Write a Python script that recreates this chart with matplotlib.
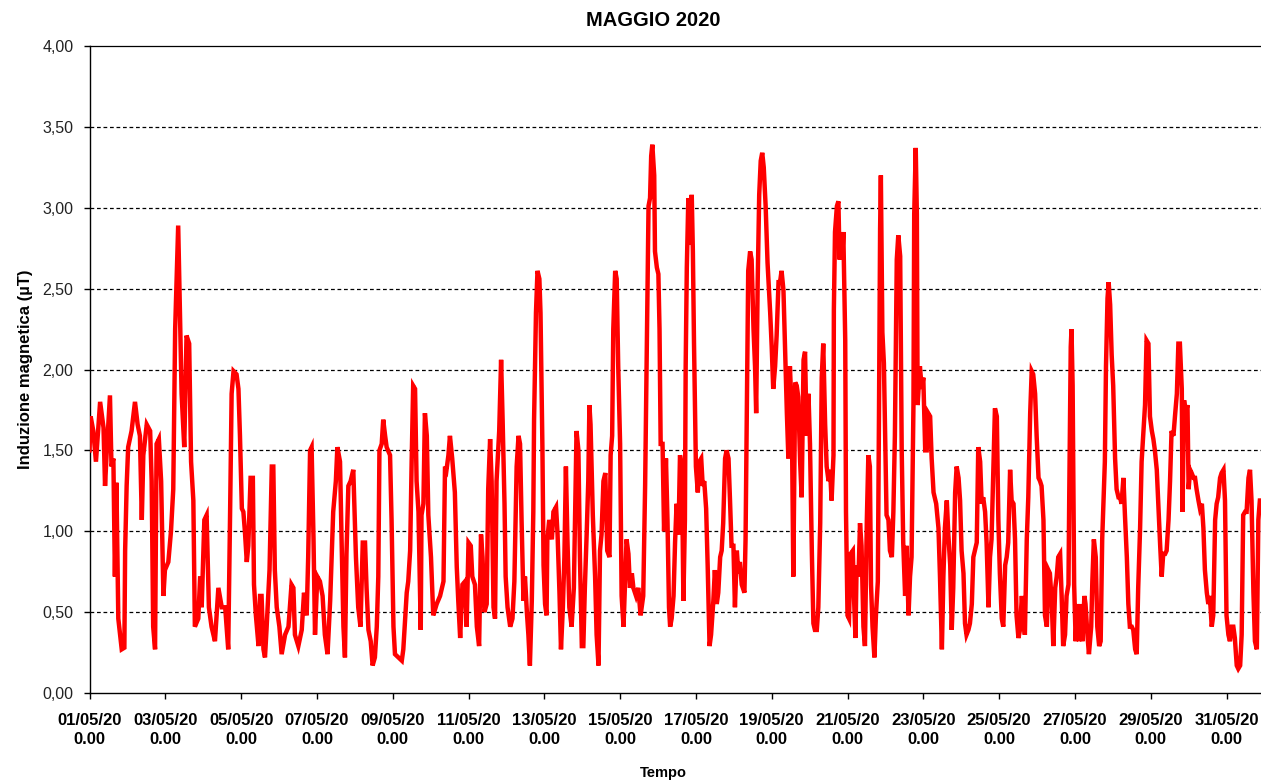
import matplotlib
matplotlib.use("Agg")
import matplotlib.pyplot as plt
from matplotlib.ticker import FuncFormatter, FixedLocator

# ---- data (day offset from 01/05/20 0.00, induction in microtesla) ----
days = [
    0.00, 0.03, 0.10, 0.17, 0.28, 0.37, 0.41, 0.45, 0.54, 0.58, 0.63, 0.67, 0.71, 0.76, 0.85, 0.92, 0.94, 0.98,
    1.02, 1.11, 1.20, 1.27, 1.33, 1.38, 1.42, 1.51, 1.60, 1.64, 1.68, 1.73, 1.77, 1.83, 1.89, 1.95, 1.99,
    2.08, 2.15, 2.21, 2.26, 2.34, 2.39, 2.43, 2.50, 2.56, 2.63, 2.68, 2.74, 2.78, 2.87, 2.92, 2.96,
    3.03, 3.09, 3.15, 3.22, 3.31, 3.40, 3.49, 3.58, 3.66, 3.71, 3.75, 3.80,
    3.88, 3.93, 3.97, 4.02, 4.06, 4.10, 4.15, 4.19, 4.25, 4.31, 4.34, 4.39, 4.46, 4.50, 4.54, 4.59, 4.63,
    4.67, 4.75, 4.81, 4.85, 4.89, 4.94, 5.01, 5.07, 5.16, 5.25, 5.33, 5.38, 5.42, 5.51, 5.60, 5.66, 5.73,
    5.77, 5.82, 5.86, 5.91, 5.95, 6.01, 6.08, 6.15, 6.21, 6.28, 6.35, 6.43, 6.50, 6.54, 6.61, 6.65, 6.70,
    6.74, 6.78, 6.83, 6.89, 6.96, 7.03, 7.09, 7.15, 7.21, 7.27, 7.31, 7.36, 7.42, 7.47, 7.53, 7.58, 7.62, 7.65,
    7.71, 7.75, 7.80, 7.84, 7.93, 7.97, 8.02, 8.06, 8.15, 8.24, 8.28, 8.37, 8.41, 8.46, 8.50, 8.54, 8.59,
    8.63, 8.68, 8.74, 8.76, 8.81, 8.85, 8.90, 8.94, 9.01, 9.07, 9.16, 9.25, 9.34, 9.38, 9.42, 9.47, 9.51,
    9.57, 9.64, 9.69, 9.73, 9.78, 9.84, 9.91, 9.95, 10.00, 10.06, 10.10, 10.17, 10.22, 10.28, 10.33, 10.37,
    10.42, 10.48, 10.52, 10.57, 10.61, 10.66, 10.70, 10.74, 10.81, 10.86, 10.90, 10.95, 10.98, 11.03, 11.10,
    11.16, 11.21, 11.27, 11.32, 11.36, 11.40, 11.45,
    11.49, 11.54, 11.58, 11.62, 11.67, 11.71, 11.73, 11.78, 11.82, 11.87, 11.90, 11.95, 11.98, 12.02, 12.06,
    12.08, 12.13, 12.20, 12.24, 12.31, 12.35, 12.40, 12.44, 12.49, 12.53, 12.57, 12.61, 12.66, 12.72, 12.78,
    12.85, 12.90, 12.94, 12.99, 13.03, 13.07, 13.12, 13.16, 13.19, 13.22, 13.28, 13.34, 13.38, 13.43, 13.47,
    13.51, 13.56, 13.61, 13.66, 13.72, 13.75, 13.79, 13.82, 13.87, 13.91, 13.95, 14.00, 14.04, 14.09, 14.13,
    14.17, 14.22, 14.26, 14.31, 14.35, 14.42, 14.48, 14.54, 14.61, 14.66, 14.70, 14.75, 14.79, 14.82, 14.85,
    14.90, 14.92, 14.97, 15.01, 15.04, 15.07, 15.12, 15.16, 15.21, 15.25, 15.29,
    15.32, 15.36, 15.41, 15.45, 15.49, 15.54, 15.58, 15.63, 15.67, 15.71, 15.73, 15.76, 15.80, 15.85, 15.89,
    15.92, 15.95, 15.98, 16.00, 16.05, 16.09, 16.14, 16.18, 16.22, 16.27, 16.31, 16.36, 16.40, 16.46, 16.50,
    16.55, 16.59, 16.64, 16.68, 16.72, 16.77, 16.81, 16.86, 16.90, 16.94, 16.99, 17.03, 17.08, 17.12, 17.16,
    17.21, 17.28, 17.31, 17.35, 17.38, 17.43, 17.47, 17.52, 17.56, 17.59, 17.63, 17.67, 17.71, 17.75, 17.79,
    17.84, 17.89, 17.96, 18.00, 18.04, 18.09, 18.13, 18.18, 18.22, 18.26, 18.31, 18.35, 18.40, 18.44, 18.48,
    18.53, 18.57, 18.62, 18.66, 18.70, 18.75, 18.79, 18.84, 18.88, 18.92, 18.97, 19.01, 19.06, 19.10,
    19.14, 19.19, 19.23, 19.28, 19.32, 19.36, 19.41, 19.45, 19.50, 19.54, 19.58, 19.63, 19.64, 19.67, 19.72,
    19.76, 19.79, 19.82, 19.86, 19.89, 19.94, 19.96, 20.00, 20.04, 20.08, 20.14, 20.17, 20.21, 20.24, 20.29,
    20.33, 20.37, 20.42, 20.46, 20.51, 20.55, 20.59, 20.62, 20.66, 20.71, 20.75, 20.80, 20.83, 20.86, 20.88,
    20.92, 20.96, 21.00, 21.03, 21.08, 21.12, 21.17, 21.21, 21.25, 21.30, 21.34, 21.39, 21.43, 21.47, 21.52,
    21.56, 21.61, 21.65, 21.69, 21.74, 21.76, 21.80, 21.83, 21.85, 21.91, 21.96, 22.00, 22.05, 22.09, 22.13,
    22.18, 22.22, 22.27, 22.34, 22.40, 22.44, 22.49, 22.53, 22.57, 22.62, 22.66, 22.71, 22.75, 22.79, 22.84,
    22.88, 22.93,
    22.97, 23.01, 23.06, 23.10, 23.14, 23.19, 23.23, 23.28, 23.32, 23.36, 23.41, 23.45, 23.50, 23.54, 23.58,
    23.63, 23.67, 23.72, 23.76, 23.80, 23.85, 23.89, 23.94, 23.98, 24.02, 24.07, 24.11, 24.16, 24.20, 24.24,
    24.29, 24.33, 24.38, 24.42, 24.46, 24.51, 24.55, 24.60, 24.64, 24.68, 24.73, 24.77, 24.82, 24.86, 24.90,
    24.95, 24.99, 25.04, 25.08, 25.12, 25.17, 25.21, 25.26, 25.30, 25.34, 25.39, 25.43, 25.48, 25.52, 25.56,
    25.61, 25.65, 25.69, 25.74, 25.78, 25.83, 25.85, 25.89, 25.91, 25.94, 25.98, 26.02, 26.06, 26.11, 26.15,
    26.20, 26.25, 26.28, 26.33, 26.37, 26.43, 26.46, 26.50, 26.55, 26.59, 26.64, 26.68, 26.72,
    26.79, 26.82, 26.86, 26.89, 26.93, 26.97, 27.01, 27.06, 27.10, 27.15, 27.19, 27.23, 27.28, 27.32, 27.37,
    27.41, 27.45, 27.50, 27.54, 27.59, 27.63, 27.67, 27.72, 27.76, 27.81, 27.85, 27.89, 27.94, 27.98, 28.03,
    28.07, 28.11, 28.16, 28.20, 28.25, 28.29, 28.33, 28.38, 28.42, 28.47, 28.51, 28.55, 28.60, 28.64, 28.69,
    28.73, 28.77, 28.82, 28.84, 28.88, 28.92, 28.97, 29.00, 29.04, 29.08, 29.13, 29.17, 29.21, 29.26, 29.30,
    29.35, 29.39, 29.43, 29.48, 29.52, 29.56, 29.61, 29.65, 29.70, 29.74, 29.78, 29.83, 29.87, 29.92, 29.96,
    30.00, 30.05, 30.09, 30.14, 30.18, 30.22, 30.27, 30.31, 30.36, 30.40, 30.44, 30.49, 30.53, 30.58, 30.62,
    30.66, 30.71, 30.75, 30.80, 30.84, 30.88, 30.92,
]
induction = [
    1.50, 1.71, 1.62, 1.43, 1.80, 1.64, 1.28, 1.47, 1.84, 1.40, 1.45, 0.72, 1.30, 0.46, 0.27, 0.28, 0.88, 1.28,
    1.52, 1.62, 1.80, 1.66, 1.59, 1.07, 1.47, 1.66, 1.62, 1.31, 0.41, 0.27, 1.54, 1.57, 1.31, 0.60, 0.76,
    0.81, 1.00, 1.26, 2.25, 2.89, 2.30, 1.85, 1.52, 2.21, 2.16, 1.43, 1.19, 0.41, 0.46, 0.72, 0.53,
    1.07, 1.10, 0.53, 0.41, 0.32, 0.65, 0.53, 0.53, 0.27, 1.12, 1.85, 1.99,
    1.97, 1.88, 1.59, 1.14, 1.12, 1.00, 0.81, 0.91, 1.33, 1.33, 0.67, 0.48, 0.29, 0.60, 0.60, 0.27, 0.22,
    0.39, 0.76, 1.40, 1.40, 0.76, 0.53, 0.41, 0.24, 0.36, 0.41, 0.67, 0.65, 0.36, 0.29, 0.39, 0.62, 0.48,
    0.84, 1.50, 1.52, 0.96, 0.36, 0.72, 0.69, 0.60, 0.36, 0.24, 0.57, 1.12, 1.31, 1.52, 1.43, 0.96, 0.41,
    0.22, 0.86, 1.28, 1.31, 1.38, 0.84, 0.53, 0.41, 0.93, 0.93, 0.65, 0.39, 0.32, 0.17, 0.22, 0.41, 0.72, 1.50,
    1.54, 1.69, 1.59, 1.52, 1.47, 1.07, 0.41, 0.24, 0.22, 0.20, 0.27, 0.62, 0.69, 0.88, 1.43, 1.90, 1.88,
    1.31, 1.12, 0.39, 1.10, 1.17, 1.73, 1.59, 1.10, 0.84, 0.48, 0.55, 0.60, 0.69, 1.40, 1.38, 1.47, 1.59,
    1.45, 1.24, 0.78, 0.57, 0.34, 0.67, 0.69, 0.41, 0.93, 0.91, 0.72, 0.67, 0.41, 0.29, 0.98, 0.84,
    0.50, 0.55, 1.26, 1.57, 1.31, 0.53, 0.46, 1.31, 1.62, 2.06, 1.69, 1.17, 0.72, 0.53, 0.41,
    0.46, 0.69, 1.40, 1.59, 1.54, 1.07, 0.57,
    0.72, 0.50, 0.36, 0.17, 0.57, 1.12, 1.69, 2.35, 2.61, 2.56, 2.35, 1.52, 0.79, 0.55, 0.48,
    0.95, 1.07, 0.95, 1.12, 1.15, 0.98, 0.62, 0.27, 0.53, 0.84, 1.40, 0.95, 0.53, 0.41, 0.65,
    1.62, 1.50, 0.84, 0.29, 0.29, 0.65, 1.00, 1.31, 1.78, 1.66, 1.10, 0.72, 0.36, 0.17, 0.88,
    0.98, 1.31, 1.36, 0.88, 0.84, 1.47, 1.59, 2.25, 2.61, 2.56, 2.02, 1.54, 0.60, 0.41, 0.69,
    0.95, 0.86, 0.65, 0.74, 0.65, 0.60, 0.65, 0.48, 0.60, 1.28, 2.06, 3.01, 3.06, 3.32, 3.39,
    3.20, 2.73, 2.63, 2.59, 2.25, 1.54, 1.54, 1.00, 1.45, 1.07, 0.53,
    0.41, 0.46, 0.60, 0.93, 1.17, 0.98, 1.47, 1.40, 0.57, 1.07, 2.02, 2.63, 3.06, 2.77, 3.08,
    2.73, 2.16, 1.71, 1.40, 1.24, 1.43, 1.45, 1.28, 1.31, 1.14, 0.79, 0.29, 0.36, 0.57, 0.76,
    0.55, 0.62, 0.84, 0.88, 1.05, 1.45, 1.50, 1.45, 1.19, 0.91, 0.91, 0.53, 0.88, 0.74, 0.81,
    0.67, 0.62, 0.95, 1.90, 2.61, 2.73, 2.68, 2.25, 2.02, 1.73, 2.54, 3.08, 3.29, 3.34, 3.25,
    3.01, 2.66, 2.35, 2.14, 1.88, 2.02, 2.21, 2.54, 2.54, 2.61, 2.49, 2.16, 1.73, 1.45, 2.02,
    1.73, 0.72, 1.92, 1.90, 1.83, 1.43, 1.21, 2.06, 2.11, 1.59, 1.85, 1.54, 0.86, 0.43,
    0.39, 0.39, 0.53, 1.05, 1.95, 2.16, 1.66, 1.40, 1.31, 1.38, 1.19, 1.47, 2.37, 2.85, 3.01,
    3.04, 2.68, 2.83, 2.68, 2.85, 2.18, 1.12, 0.48, 0.46, 0.86, 0.88, 0.60, 0.34, 0.79, 0.72,
    1.05, 0.91, 0.41, 0.29, 1.07, 1.47, 1.40, 0.67, 0.41, 0.22, 0.48, 0.69, 1.71, 2.87, 3.20,
    2.23, 2.04, 1.50, 1.10, 1.07, 0.88, 0.84, 1.12, 1.59, 2.68, 2.83, 2.70, 1.50, 0.93, 0.60,
    0.91, 0.48, 0.72, 0.84, 1.78, 2.96, 3.37, 2.96, 1.78, 2.02, 1.88, 1.95, 1.50, 1.50, 1.73,
    1.71, 1.45, 1.24, 1.17, 1.02, 0.72, 0.27, 0.72, 1.02, 1.19, 0.98, 0.79, 0.39, 0.65, 1.24,
    1.40, 1.33,
    1.19, 0.88, 0.74, 0.43, 0.36, 0.39, 0.43, 0.55, 0.84, 0.88, 0.93, 1.52, 1.43, 1.17, 1.21,
    1.12, 0.93, 0.53, 0.84, 0.95, 1.40, 1.76, 1.71, 1.07, 0.74, 0.46, 0.41, 0.79, 0.84, 0.93,
    1.38, 1.19, 1.17, 0.95, 0.48, 0.34, 0.39, 0.60, 0.46, 0.36, 0.95, 1.21, 1.73, 1.99, 1.97,
    1.85, 1.59, 1.33, 1.31, 1.28, 1.07, 0.48, 0.41, 0.76, 0.74, 0.55, 0.29, 0.65, 0.72, 0.84,
    0.86, 0.60, 0.29, 0.36, 0.60, 0.67, 1.21, 2.14, 2.25, 1.90, 0.67, 0.32, 0.55, 0.32, 0.55,
    0.32, 0.60, 0.55, 0.36, 0.24, 0.41, 0.69, 0.95, 0.84, 0.41, 0.29, 0.32, 0.95,
    1.43, 2.02, 2.44, 2.54, 2.40, 2.09, 1.90, 1.45, 1.26, 1.21, 1.21, 1.17, 1.33, 1.10, 0.84,
    0.55, 0.41, 0.41, 0.39, 0.27, 0.24, 0.65, 1.02, 1.43, 1.62, 1.78, 2.18, 2.16, 1.71, 1.62,
    1.57, 1.50, 1.38, 1.17, 0.91, 0.72, 0.86, 0.86, 0.88, 1.07, 1.31, 1.62, 1.59, 1.71, 1.85,
    2.16, 2.16, 1.88, 1.12, 1.81, 1.73, 1.78, 1.26, 1.38, 1.36, 1.33, 1.33, 1.26, 1.19, 1.14,
    1.17, 1.02, 0.76, 0.62, 0.55, 0.60, 0.41, 0.48, 1.07, 1.17, 1.21, 1.33, 1.36, 1.38, 1.19,
    0.48, 0.36, 0.32, 0.41, 0.41, 0.34, 0.17, 0.15, 0.17, 0.36, 1.10, 1.12, 1.12, 1.33, 1.38,
    1.19, 0.62, 0.32, 0.27, 1.07, 1.19, 1.19,
]

tick_days = list(range(0, 31, 2))
tick_dates = ["01/05/20", "03/05/20", "05/05/20", "07/05/20", "09/05/20", "11/05/20",
              "13/05/20", "15/05/20", "17/05/20", "19/05/20", "21/05/20", "23/05/20",
              "25/05/20", "27/05/20", "29/05/20", "31/05/20"]
tick_labels = [d + "\n0.00" for d in tick_dates]
y_ticks = [0, 0.5, 1.0, 1.5, 2.0, 2.5, 3.0, 3.5, 4.0]

title = "MAGGIO 2020"
xlabel = "Tempo"
ylabel = "Induzione magnetica (µT)"

# ---- figure ----
plt.rcParams['font.family'] = ['Liberation Sans', 'DejaVu Sans']
W, H = 1261, 782
fig = plt.figure(figsize=(W / 100, H / 100), dpi=100)
ax = fig.add_axes([89.5 / W, 1 - 693 / H, (W - 89.5) / W, (693 - 46) / H])

ax.plot(days, induction, color="#ff0000", lw=3.2, solid_joinstyle="miter", zorder=3)

ax.set_xlim(0, 30.91)
ax.set_ylim(0, 4)

for v in y_ticks[1:-1]:
    ax.axhline(v, color="black", lw=0.9, ls=(0, (3, 2.2)), zorder=1)

ax.yaxis.set_major_locator(FixedLocator(y_ticks))
ax.yaxis.set_major_formatter(FuncFormatter(lambda v, p: f"{v:.2f}".replace(".", ",")))
ax.set_xticks(tick_days)
ax.set_xticklabels(tick_labels, fontweight="bold", fontsize=12, linespacing=1.3)

ax.tick_params(axis="y", direction="out", length=4.5, width=1, labelsize=11.5,
               pad=7, labelcolor="#222222")
ax.tick_params(axis="x", direction="out", length=4.5, width=1, pad=10)

for s in ["left", "bottom", "top"]:
    ax.spines[s].set_color("black")
    ax.spines[s].set_linewidth(1.0)
ax.spines["top"].set_linewidth(0.9)
ax.spines["right"].set_visible(False)

ax.set_ylabel(ylabel, fontweight="bold", fontsize=12, labelpad=7)
fig.text(663 / W, 1 - 773 / H, xlabel, ha="center", va="center", fontweight="bold", fontsize=10.5)
fig.text(653 / W, 1 - 21 / H, title, ha="center", va="center", fontweight="bold", fontsize=14.5)

fig.savefig("out.png", dpi=100)
